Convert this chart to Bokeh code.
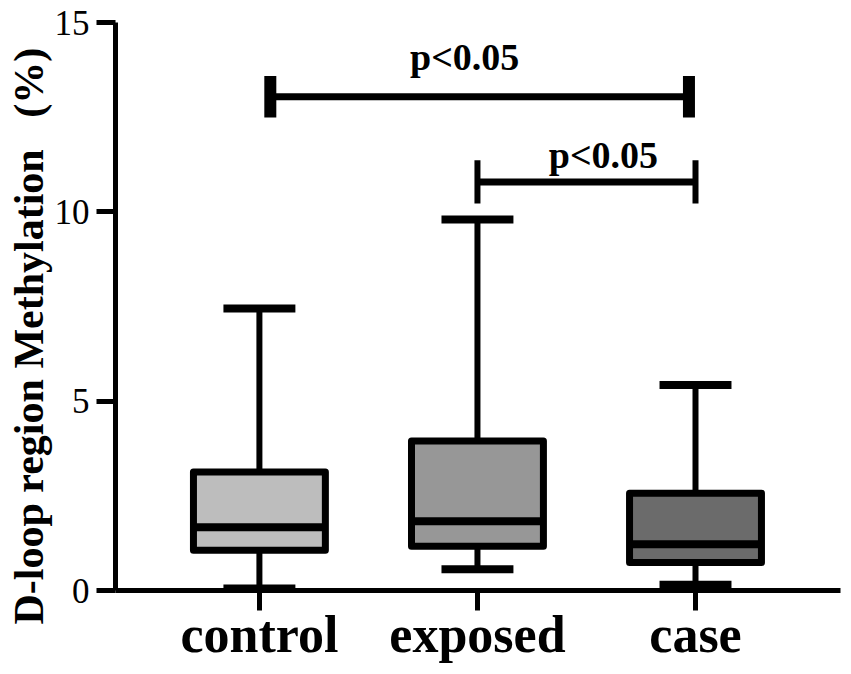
from bokeh.plotting import figure
from bokeh.models import Range1d, FixedTicker, LinearAxis, ColumnDataSource, Title
from bokeh.core.properties import value
from bokeh.embed import file_html
from bokeh.resources import INLINE

# ---- data ----
categories = ["control", "exposed", "case"]
q1 = [1.06, 1.17, 0.74]
median = [1.67, 1.83, 1.22]
q3 = [3.13, 3.95, 2.57]
whisker_low = [0.05, 0.56, 0.15]
whisker_high = [7.45, 9.80, 5.43]
fills = ["#bdbdbd", "#979797", "#6b6b6b"]

y_ticks = [0, 5, 10, 15]
y_title = "D-loop region Methylation\u00a0\u00a0\u00a0(%)"

sig_pairs = [("control", "case"), ("exposed", "case")]
sig_level = [13.04, 10.79]
sig_text = ["p<0.05", "p<0.05"]

# ---- styling constants ----
SERIF = "Liberation Serif"
BOX_W = 0.605
CAP_W = 0.33

xpos = [i + 1 for i in range(len(categories))]
pos = dict(zip(categories, xpos))

p = figure(width=843, height=665, output_backend="svg", toolbar_location=None,
           x_range=Range1d(0.34, 3.665), y_range=Range1d(0, 15),
           x_axis_type=None, y_axis_type=None,
           min_border_left=115, min_border_right=3, min_border_top=22, min_border_bottom=10)
p.outline_line_color = None
p.grid.visible = False
p.background_fill_color = "white"
p.border_fill_color = "white"

# y axis
ya = LinearAxis(ticker=FixedTicker(ticks=y_ticks, minor_ticks=[]))
ya.axis_line_width = 5
ya.major_tick_line_width = 5
ya.major_tick_out = 19
ya.major_tick_in = 0
ya.minor_tick_line_color = None
ya.major_label_text_font = SERIF
ya.major_label_text_font_size = "35px"
ya.major_label_text_color = "black"
ya.major_label_standoff = 7
p.add_layout(ya, "left")

# y title, placed in the left panel, starting a little below the frame bottom
p.add_layout(Title(text=y_title, align="left", offset=-34, standoff=0,
                   text_font=SERIF, text_font_style="bold", text_font_size="42px",
                   text_color="black"), "left")

# x axis
xa = LinearAxis(ticker=FixedTicker(ticks=xpos, minor_ticks=[]))
xa.major_label_overrides = {x: c for x, c in zip(xpos, categories)}
xa.axis_line_width = 5
xa.major_tick_line_width = 5
xa.major_tick_out = 20
xa.major_tick_in = 0
xa.minor_tick_line_color = None
xa.major_label_text_font = SERIF
xa.major_label_text_font_style = "bold"
xa.major_label_text_font_size = "52px"
xa.major_label_text_color = "black"
xa.major_label_standoff = -5
p.add_layout(xa, "below")

src = ColumnDataSource(dict(
    x=xpos, q1=q1, med=median, q3=q3, lo=whisker_low, hi=whisker_high, fill=fills,
    xl=[x - BOX_W / 2 for x in xpos], xr=[x + BOX_W / 2 for x in xpos],
    cl=[x - CAP_W / 2 for x in xpos], cr=[x + CAP_W / 2 for x in xpos],
))

# whiskers
p.segment(x0="x", y0="q3", x1="x", y1="hi", source=src, line_color="black", line_width=6)
p.segment(x0="x", y0="q1", x1="x", y1="lo", source=src, line_color="black", line_width=6)
p.segment(x0="cl", y0="hi", x1="cr", y1="hi", source=src, line_color="black", line_width=8)
p.segment(x0="cl", y0="lo", x1="cr", y1="lo", source=src, line_color="black", line_width=8)
# boxes
p.vbar(x="x", width=BOX_W, bottom="q1", top="q3", source=src, fill_color="fill",
       line_color="black", line_width=7, line_join="round")
# medians
p.segment(x0="xl", y0="med", x1="xr", y1="med", source=src, line_color="black", line_width=8)

# significance brackets
bx0 = [pos[a] for a, b in sig_pairs]
bx1 = [pos[b] for a, b in sig_pairs]
inset_l = [0.05, 0.0]
inset_r = [-0.03, 0.0]
x0s = [a + d for a, d in zip(bx0, inset_l)]
x1s = [b + d for b, d in zip(bx1, inset_r)]
p.segment(x0=x0s, y0=sig_level, x1=x1s, y1=sig_level, line_color="black", line_width=7)
cap_half = [0.55, 0.57]
cap_w = [12, 6]
for i in range(len(sig_pairs)):
    for xx in (x0s[i], x1s[i]):
        p.segment(x0=[xx], y0=[sig_level[i] - cap_half[i]], x1=[xx], y1=[sig_level[i] + cap_half[i]],
                  line_color="black", line_width=cap_w[i])

lab_x = [(a + b) / 2 for a, b in zip(x0s, x1s)]
p.text(x=lab_x, y=sig_level, text=sig_text, x_offset=[-15, 17], y_offset=[-40, -27],
       text_font=value(SERIF), text_font_style="bold", text_font_size="38px",
       text_align="center", text_baseline="middle", text_color="black")

open("out.html", "w").write(file_html(p, INLINE))
